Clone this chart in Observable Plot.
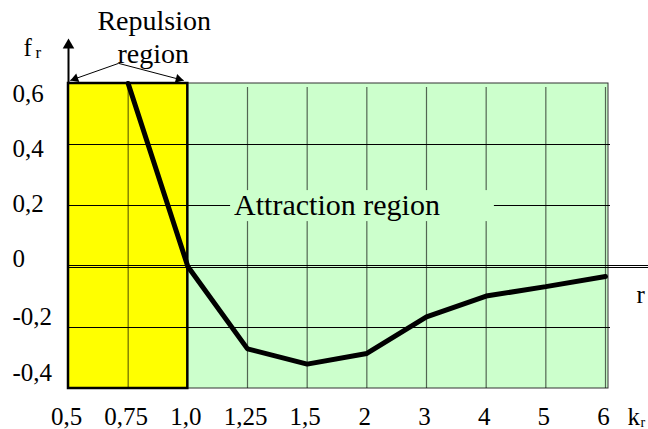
<!DOCTYPE html>
<html>
<head>
<meta charset="utf-8">
<script src="https://cdn.jsdelivr.net/npm/d3@7"></script>
<script src="https://cdn.jsdelivr.net/npm/@observablehq/plot@0.6"></script>
<style>
  html, body { margin: 0; padding: 0; background: #fff; }
  #chart svg { display: block; }
</style>
</head>
<body>
<div id="chart"></div>
<script>
// ---- data ----
const rLabels = ["0,5", "0,75", "1,0", "1,25", "1,5", "2", "3", "4", "5", "6"];
const rValues = [0.5, 0.75, 1.0, 1.25, 1.5, 2, 3, 4, 5, 6];
const frValues = [null, 0.6, 0, -0.27, -0.32, -0.285, -0.165, -0.097, -0.066, -0.033];
const yTicks = [0.6, 0.4, 0.2, 0, -0.2, -0.4];
const yTickLabels = ["0,6", "0,4", "0,2", "0", "-0,2", "-0,4"];
const gridY = [0.4, 0.2, -0.2];
const repulsionRange = [0.5, 1.0];
const attractionRange = [1.0, 6];

// ---- derived ----
const idx = v => rValues.indexOf(v);
const points = rValues.map((r, i) => ({i, r, fr: frValues[i]})).filter(d => d.fr !== null);
const yMin = -0.4, yMax = 0.6;
const nMax = rValues.length - 1;

const W = 648, H = 429, ML = 68, MR = 43, MT = 83, MB = 41;
const px = i => ML + i * (W - ML - MR) / nMax;
const py = v => MT + (yMax - v) * (H - MT - MB) / (yMax - yMin);

const font = "'Liberation Serif', 'Times New Roman', serif";
const yLabelShift = [10.5, 4.5, -1.5, -7.5, -10.5, -16];

// repulsion double arrow (annotation, data units)
const repStart = [0.84, 0.666];
const repEnds = [[0.03, 0.61], [1.93, 0.61]];
const headR = 3.4;
const heads = repEnds.map(([x, y]) => {
  const dx = px(x) - px(repStart[0]), dy = py(y) - py(repStart[1]);
  const L = Math.hypot(dx, dy);
  const ang = Math.atan2(dx, -dy) * 180 / Math.PI;
  const yy = Math.sqrt(Math.PI * headR * headR / (3 * Math.sqrt(3)));
  return {x, y, rotate: ang, ox: -dx / L * 2 * yy, oy: -dy / L * 2 * yy};
});

const txt = (data, opts) => Plot.text(data, {text: d => d, fill: "#000", fontFamily: font, ...opts});

const plot = Plot.plot({
  width: W,
  height: H,
  marginLeft: ML,
  marginRight: MR,
  marginTop: MT,
  marginBottom: MB,
  style: {fontFamily: font, background: "#fff", overflow: "visible"},
  x: {domain: [0, nMax], axis: null},
  y: {domain: [yMin, yMax], axis: null},
  marks: [
    // regions
    Plot.rect([0], {x1: idx(repulsionRange[0]), x2: idx(repulsionRange[1]), y1: yMin, y2: yMax, fill: "#ffff00"}),
    Plot.rect([0], {x1: idx(attractionRange[0]), x2: idx(attractionRange[1]), y1: yMin, y2: yMax,
      fill: "#ccffcc", stroke: "#333", strokeWidth: 1, insetRight: -3}),
    // vertical grid
    Plot.ruleX(points.filter(d => d.r !== 1.0), {x: "i", y1: yMin, y2: yMax, stroke: "#000", strokeOpacity: 0.6, strokeWidth: 1.2, insetBottom: -4}),
    // horizontal grid
    Plot.ruleY(gridY, {y: d => d, x1: 0, x2: nMax, stroke: "#000", strokeWidth: 1, insetRight: -5}),
    // zero double line
    Plot.ruleY([0], {y: d => d, x1: 0, x2: nMax, stroke: "#000", strokeWidth: 1, dy: -1, insetRight: -43}),
    Plot.ruleY([0], {y: d => d, x1: 0, x2: nMax, stroke: "#000", strokeWidth: 1, dy: 1, insetRight: -43}),
    // repulsion box border
    Plot.rect([0], {x1: idx(repulsionRange[0]), x2: idx(repulsionRange[1]), y1: yMin, y2: yMax, fill: "none", stroke: "#000", strokeWidth: 2.5}),
    // the curve
    Plot.line(points, {x: "i", y: "fr", stroke: "#000", strokeWidth: 5, strokeLinejoin: "miter"}),
    // y axis arrow
    Plot.ruleX([0], {x: d => d, y1: yMax, y2: 0.73, stroke: "#000", strokeWidth: 2}),
    Plot.dot([0], {x: d => d, y: 0.726, symbol: "triangle", r: 4.3, fill: "#000", stroke: "none"}),
    // repulsion arrows
    Plot.link(repEnds, {x1: repStart[0], y1: repStart[1], x2: d => d[0], y2: d => d[1], stroke: "#000", strokeWidth: 1}),
    ...heads.map(h => Plot.dot([h], {x: "x", y: "y", rotate: "rotate", symbol: "triangle", r: headR, fill: "#000", stroke: "none", dx: h.ox, dy: h.oy})),
    // y tick labels
    ...yTicks.map((t, k) => txt([yTickLabels[k]], {x: 0, y: t, textAnchor: "start", dx: -56, dy: yLabelShift[k], fontSize: 25})),
    // x tick labels
    txt(rLabels, {x: (d, i) => i, y: yMin, dy: 28, dx: -2, fontSize: 25}),
    // axis titles
    txt(["f"], {x: 0, y: yMax, textAnchor: "start", dx: -45, dy: -36, fontSize: 25}),
    txt(["r"], {x: 0, y: yMax, textAnchor: "start", dx: -33, dy: -30.5, fontSize: 17}),
    txt(["r"], {x: nMax, y: 0, textAnchor: "start", dx: 31, dy: 28, fontSize: 25}),
    txt(["k"], {x: nMax, y: yMin, textAnchor: "start", dx: 22, dy: 28, fontSize: 25}),
    txt(["r"], {x: nMax, y: yMin, textAnchor: "start", dx: 35, dy: 34, fontSize: 14}),
    // region labels
    txt(["Repulsion"], {x: 1, y: yMax, dx: 26, dy: -62, fontSize: 28}),
    txt(["region"], {x: 1, y: yMax, dx: 25, dy: -29, fontSize: 28}),
    txt(["Attraction region"], {x: 4.5, y: 0.2, fontSize: 30, className: "attr-label"})
  ]
});

document.getElementById("chart").appendChild(plot);

// background patch behind the "Attraction region" label (hides the grid there)
const lab = plot.querySelector(".attr-label text");
if (lab) {
  const bb = lab.getBBox();
  const rect = document.createElementNS("http://www.w3.org/2000/svg", "rect");
  rect.setAttribute("x", bb.x - 4);
  rect.setAttribute("y", bb.y + 2);
  rect.setAttribute("width", bb.width + 58);
  rect.setAttribute("height", bb.height - 2);
  rect.setAttribute("fill", "#ccffcc");
  const tr = lab.getAttribute("transform");
  if (tr) rect.setAttribute("transform", tr);
  lab.parentNode.insertBefore(rect, lab);
}
</script>
</body>
</html>
